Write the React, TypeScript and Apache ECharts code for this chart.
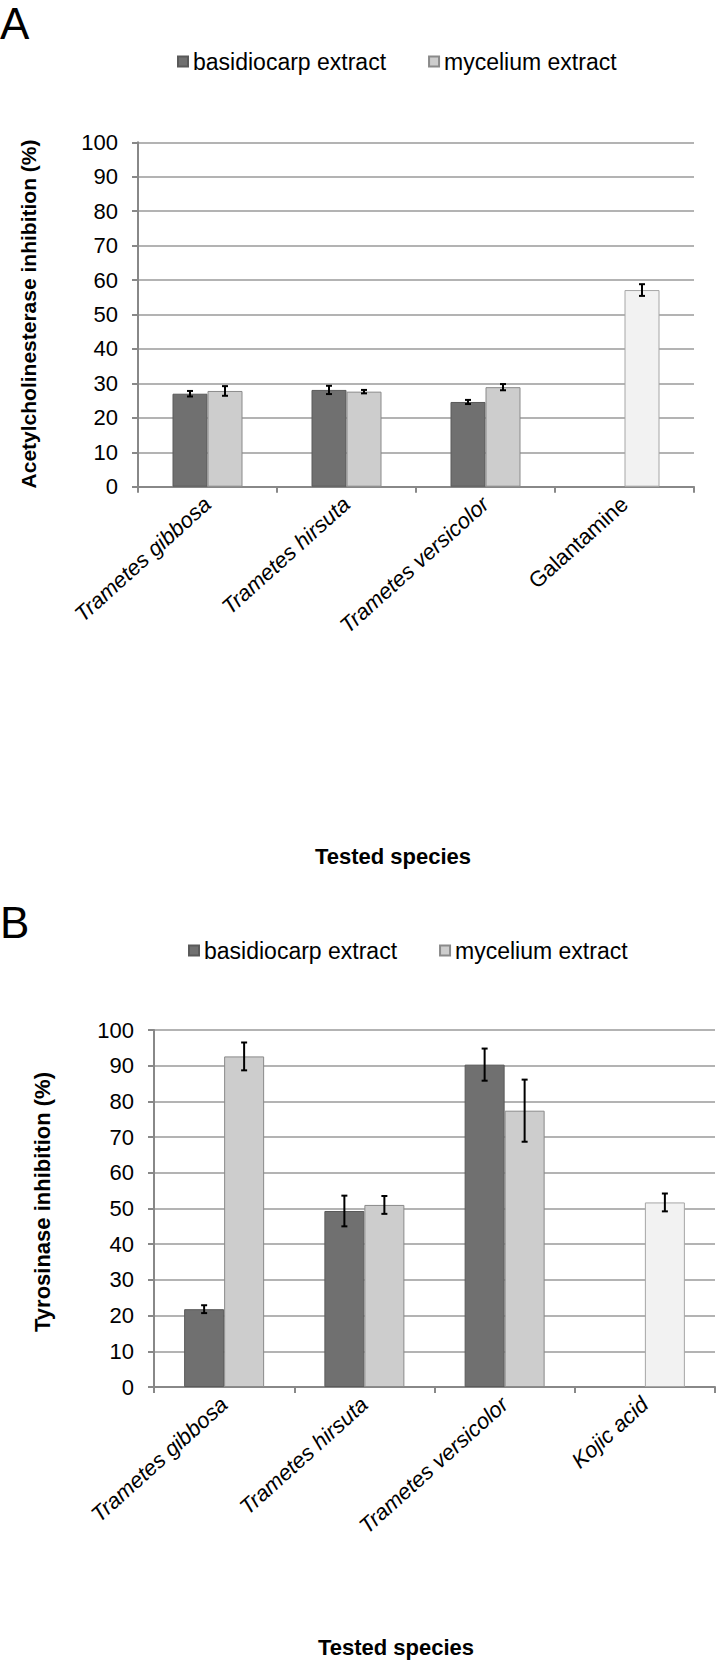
import React, { useEffect, useRef } from "react";
import * as echarts from "echarts";

// ---------- Data ----------
const categoriesA = ["Trametes gibbosa", "Trametes hirsuta", "Trametes versicolor", "Galantamine"];
const basidioA = [27.0, 28.1, 24.6, null];
const basidioErrA = [0.8, 1.2, 0.6, null];
const myceliumA = [27.8, 27.6, 28.9, 57.1];
const myceliumErrA = [1.4, 0.5, 0.9, 1.7];

const categoriesB = ["Trametes gibbosa", "Trametes hirsuta", "Trametes versicolor", "Kojic acid"];
const basidioB = [21.8, 49.3, 90.3, null];
const basidioErrB = [1.1, 4.3, 4.5, null];
const myceliumB = [92.6, 51.0, 77.4, 51.7];
const myceliumErrB = [3.9, 2.5, 8.7, 2.5];

const italicNames = ["Trametes gibbosa", "Trametes hirsuta", "Trametes versicolor", "Kojic acid"];
const yTicks = { min: 0, max: 100, interval: 10 };
const seriesNames = ["basidiocarp extract", "mycelium extract"];

// ---------- Styles ----------
const FONT = "Liberation Sans, Arial, sans-serif";
const DARK = "#707070";
const LIGHT = "#cdcdcd";
const CONTROL = "#f2f2f2";
const GRID_COLOR = "#9a9a9a";
const AXIS_COLOR = "#888888";
const BAR_W_A = 35;
const BAR_W_B = 40;

function errData(values: (number | null)[], errs: (number | null)[], side: number) {
  const out: number[][] = [];
  values.forEach((v, i) => {
    const e = errs[i];
    if (v != null && e != null) out.push([i, v, e, side]);
  });
  return out;
}

function makeErrRender(barW: number) {
  return (params: any, api: any) => {
    const idx = api.value(0);
    const v = api.value(1);
    const e = api.value(2);
    const side = api.value(3);
    const top = api.coord([idx, v + e]);
    const bot = api.coord([idx, v - e]);
    const cx = top[0] + (side * barW) / 2;
    const cap = 3;
    const style = { stroke: "#000", lineWidth: 2 };
    return {
      type: "group",
      children: [
        { type: "line", shape: { x1: cx, y1: top[1], x2: cx, y2: bot[1] }, style },
        { type: "line", shape: { x1: cx - cap, y1: top[1], x2: cx + cap, y2: top[1] }, style },
        { type: "line", shape: { x1: cx - cap, y1: bot[1], x2: cx + cap, y2: bot[1] }, style },
      ],
    };
  };
}

function xAxisDef(cats: string[], gridIndex: number) {
  return {
    type: "category",
    gridIndex,
    data: cats,
    boundaryGap: true,
    axisLine: { lineStyle: { color: AXIS_COLOR, width: 2 } },
    axisTick: { show: true, alignWithLabel: false, length: 6, lineStyle: { color: AXIS_COLOR, width: 2 } },
    axisLabel: {
      interval: 0,
      rotate: 42,
      margin: 14,
      formatter: (v: string) => (italicNames.includes(v) ? `{i|${v}}` : `{n|${v}}`),
      rich: {
        i: { fontSize: 22, fontStyle: "italic", color: "#000", fontFamily: FONT },
        n: { fontSize: 22, fontStyle: "normal", color: "#000", fontFamily: FONT },
      },
    },
  };
}

function yAxisDef(gridIndex: number) {
  return {
    type: "value",
    gridIndex,
    min: yTicks.min,
    max: yTicks.max,
    interval: yTicks.interval,
    axisLine: { show: true, lineStyle: { color: AXIS_COLOR, width: 2 } },
    axisTick: { show: true, length: 6, lineStyle: { color: AXIS_COLOR, width: 2 } },
    axisLabel: { fontSize: 22, color: "#000", margin: 20, fontFamily: FONT },
    splitLine: { show: true, lineStyle: { color: GRID_COLOR, width: 1.5 } },
  };
}

function barSeries(name: string, data: (number | null)[], idx: number, barW: number, dark: boolean, controlIndex: number) {
  return {
    name,
    type: "bar",
    xAxisIndex: idx,
    yAxisIndex: idx,
    barWidth: barW,
    barGap: "0%",
    itemStyle: dark
      ? { color: DARK, borderColor: "#5a5a5a", borderWidth: 1 }
      : { color: LIGHT, borderColor: "#8a8a8a", borderWidth: 1 },
    data: data.map((v, i) =>
      !dark && i === controlIndex
        ? { value: v, itemStyle: { color: CONTROL, borderColor: "#a6a6a6", borderWidth: 1 } }
        : v == null
        ? "-"
        : v
    ),
  };
}

function legendDef(left: number, top: number) {
  return {
    left,
    top,
    padding: 0,
    itemWidth: 10,
    itemHeight: 10,
    itemGap: 42,
    icon: "rect",
    data: seriesNames,
    textStyle: { fontSize: 23, color: "#000", fontFamily: FONT },
    selectedMode: false,
  };
}

export default function App() {
  const ref = useRef<HTMLDivElement>(null);
  useEffect(() => {
    if (!ref.current) return;
    const chart = echarts.init(ref.current, undefined, { renderer: "svg" });
    const option = {
      animation: false,
      backgroundColor: "#ffffff",
      textStyle: { fontFamily: FONT },
      legend: [legendDef(177, 50), legendDef(188, 939)],
      grid: [
        { left: 138, right: 23, top: 142.3, height: 344.4 },
        { left: 154, right: 2, top: 1030, height: 357 },
      ],
      xAxis: [xAxisDef(categoriesA, 0), xAxisDef(categoriesB, 1)],
      yAxis: [yAxisDef(0), yAxisDef(1)],
      graphic: [
        { type: "text", x: 0, y: 1, style: { text: "A", font: `44px ${FONT}`, fill: "#000", textVerticalAlign: "top" } },
        { type: "text", x: 0, y: 900, style: { text: "B", font: `44px ${FONT}`, fill: "#000", textVerticalAlign: "top" } },
        {
          type: "text",
          x: 28,
          y: 314,
          rotation: Math.PI / 2,
          style: {
            text: "Acetylcholinesterase inhibition (%)",
            font: `bold 21px ${FONT}`,
            fill: "#000",
            textAlign: "center",
            textVerticalAlign: "middle",
          },
        },
        {
          type: "text",
          x: 42,
          y: 1202,
          rotation: Math.PI / 2,
          style: {
            text: "Tyrosinase inhibition (%)",
            font: `bold 22px ${FONT}`,
            fill: "#000",
            textAlign: "center",
            textVerticalAlign: "middle",
          },
        },
        {
          type: "text",
          x: 393,
          y: 856,
          style: { text: "Tested species", font: `bold 22px ${FONT}`, fill: "#000", textAlign: "center", textVerticalAlign: "middle" },
        },
        {
          type: "text",
          x: 396,
          y: 1647,
          style: { text: "Tested species", font: `bold 22px ${FONT}`, fill: "#000", textAlign: "center", textVerticalAlign: "middle" },
        },
      ],
      series: [
        barSeries(seriesNames[0], basidioA, 0, BAR_W_A, true, 3),
        barSeries(seriesNames[1], myceliumA, 0, BAR_W_A, false, 3),
        barSeries(seriesNames[0], basidioB, 1, BAR_W_B, true, 3),
        barSeries(seriesNames[1], myceliumB, 1, BAR_W_B, false, 3),
        {
          type: "custom",
          xAxisIndex: 0,
          yAxisIndex: 0,
          z: 10,
          renderItem: makeErrRender(BAR_W_A),
          data: [...errData(basidioA, basidioErrA, -1), ...errData(myceliumA, myceliumErrA, 1)],
        },
        {
          type: "custom",
          xAxisIndex: 1,
          yAxisIndex: 1,
          z: 10,
          renderItem: makeErrRender(BAR_W_B),
          data: [...errData(basidioB, basidioErrB, -1), ...errData(myceliumB, myceliumErrB, 1)],
        },
      ],
    };
    chart.setOption(option as any);
    return () => chart.dispose();
  }, []);
  return (
    <div
      ref={ref}
      style={{ position: "absolute", left: 0, top: 0, width: 717, height: 1661, background: "#fff" }}
    />
  );
}
